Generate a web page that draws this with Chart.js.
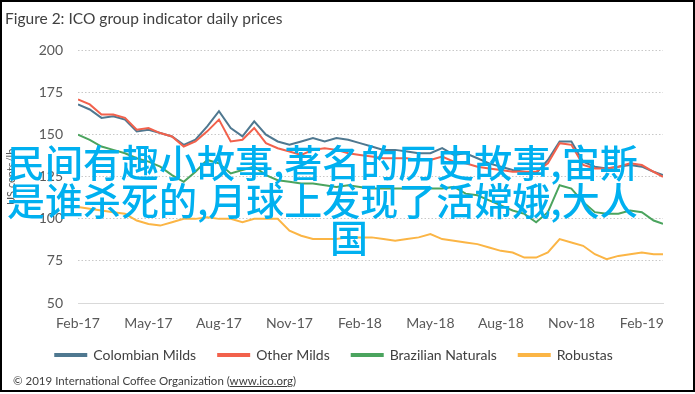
<!DOCTYPE html>
<html>
<head>
<meta charset="utf-8">
<script src="https://cdn.jsdelivr.net/npm/chart.js@4"></script>
<style>
  html, body { margin: 0; padding: 0; background: #fff; }
  #wrap { position: relative; width: 695px; height: 394px; overflow: hidden; }
  #frame { position: absolute; left: 0; top: 0; width: 691px; height: 388px; border: 2px solid #000; pointer-events: none; }
  canvas { position: absolute; left: 0; top: 0; }
  #copy { position: absolute; left: 13px; top: 374px; font-family: Lato, "Liberation Sans", sans-serif; font-size: 11.5px; color: #404040; }
  #copy u { text-decoration: underline; }
  .ov { position: absolute; font-family: "Noto Sans CJK SC", sans-serif; font-size: 38px; line-height: 37.5px; color: #00b0f0; font-weight: 500; }
  #ov1 { left: 7px; top: 142px; width: 652px; text-align: left; }
  #ov2 { left: 249px; top: 217px; width: 200px; text-align: center; }
</style>
</head>
<body>
<div id="wrap">
  <canvas id="c" width="695" height="394"></canvas>
  <div id="copy">© 2019 International Coffee Organization (<u>www.ico.org</u>)</div>
  <div class="ov" id="ov1">民间有趣小故事,著名的历史故事,宙斯是谁杀死的,月球上发现了活嫦娥,大人</div>
  <div class="ov" id="ov2">国</div>
  <div id="frame"></div>
</div>
<script>
// months since Feb-2017
const months = [0,0.5,1,1.5,2,2.5,3,3.5,4,4.5,5,5.5,6,6.5,7,7.5,8,8.5,9,9.5,10,10.5,11,11.5,12,12.5,13,13.5,14,14.5,15,15.5,16,16.5,17,17.5,18,18.5,19,19.5,20,20.5,21,21.5,22,22.5,23,23.5,24,24.5,24.9];
const tickLabels = ["Feb-17","May-17","Aug-17","Nov-17","Feb-18","May-18","Aug-18","Nov-18","Feb-19"];
const colombianMilds = [168,165,160,161,159,152,153,151,149,144,147,155,164,154,149,158,150,146,144,146,148,146,148,147,145,143,141,141,140,139,139,142,138,139,136,133,131,129,128,127,135,146,146,134,131,130,131,132,131,128,126];
const otherMilds     = [171,168,162,162,160,153,154,151,149,143,146,152,159,146,147,154,145,142,140,138,141,142,141,139,138,137,136,136,136,135,135,137,134,133,131,130,129,128,128,128,133,145,144,132,130,130,131,133,132,128,125];
const brazilianNaturals = [150,147,143,141,139,136,134,131,126,122,128,135,133,127,129,131,126,123,122,121,121,120,119,120,119,118,118,118,118,118,118,118,119,115,114,111,108,105,103,98,104,120,118,110,104,103,103,105,104,99,97];
const robustas = [107,106,105,104,103,99,97,96,98,100,100,101,100,100,98,100,100,100,93,90,88,88,88,89,89,89,88,87,88,89,91,88,87,86,85,83,81,80,77,77,80,88,86,84,79,76,78,79,80,79,79];

const seriesNames = ["Colombian Milds","Other Milds","Brazilian Naturals","Robustas"];
const seriesColors = ["#4f7890","#f2614c","#4ba45e","#fbb545"];
const seriesData = [colombianMilds, otherMilds, brazilianNaturals, robustas];

const datasets = seriesData.map((arr, i) => ({
  label: seriesNames[i],
  data: arr.map((v, j) => ({ x: months[j], y: v })),
  borderColor: seriesColors[i],
  backgroundColor: seriesColors[i],
  borderWidth: 2,
  pointRadius: 0,
  tension: 0,
  order: i === 0 ? 1 : (i === 1 ? 0 : 2)
}));

const legendShift = {
  id: 'legendShift',
  afterLayout(chart) {
    const lg = chart.legend;
    if (lg) { lg.top -= 7; lg.bottom -= 7; }
  }
};

new Chart(document.getElementById('c'), {
  type: 'line',
  data: { datasets },
  plugins: [legendShift],
  options: {
    responsive: false,
    animation: false,
    layout: { padding: { left: 5, right: 32, top: 8, bottom: 15 } },
    plugins: {
      title: {
        display: true,
        text: 'Figure 2: ICO group indicator daily prices',
        align: 'start',
        color: '#404040',
        font: { family: 'Lato', size: 15.5, weight: 'normal' },
        padding: { top: 2, bottom: 22 }
      },
      legend: {
        position: 'bottom',
        labels: {
          boxWidth: 31,
          boxHeight: 2,
          padding: 22,
          color: '#404040',
          font: { family: 'Lato', size: 14 },
          sort: (a, b) => a.datasetIndex - b.datasetIndex
        }
      },
      tooltip: { enabled: false }
    },
    scales: {
      x: {
        type: 'linear',
        min: 0,
        max: 24.9,
        afterFit: (s) => { s.height = 30; },
        grid: { display: false, drawTicks: false },
        border: { display: true, color: '#d9d9d9', width: 1 },
        ticks: {
          stepSize: 3,
          includeBounds: false,
          autoSkip: false,
          maxRotation: 0,
          padding: 12,
          color: '#595959',
          font: { family: 'Lato', size: 14 },
          callback: (v) => tickLabels[Math.round(v / 3)]
        }
      },
      y: {
        min: 50,
        max: 200,
        afterFit: (s) => { s.width = 73; },
        title: {
          display: true,
          text: 'US cents/lb',
          color: '#595959',
          font: { family: 'Lato', size: 11 },
          padding: { top: 0, bottom: 0 }
        },
        grid: { color: '#c8c8c8', lineWidth: 1, drawTicks: false },
        border: { display: false, dash: [1.5, 2] },
        ticks: {
          stepSize: 25,
          padding: 15,
          color: '#595959',
          font: { family: 'Lato', size: 14 }
        }
      }
    }
  }
});
</script>
</body>
</html>
